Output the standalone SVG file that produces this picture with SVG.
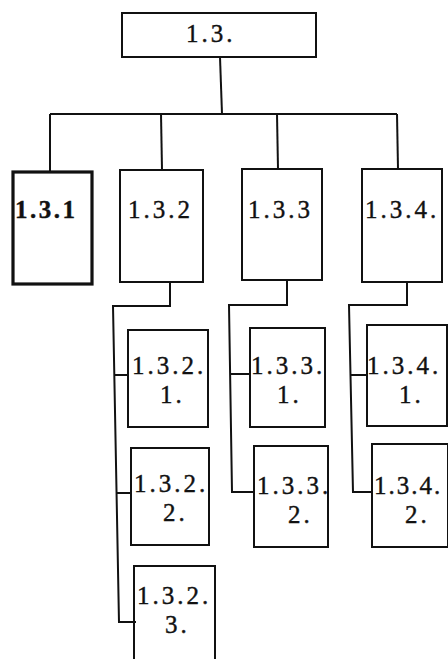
<svg xmlns="http://www.w3.org/2000/svg" width="448" height="659" viewBox="0 0 448 659">
<style>
.box{fill:#fff;stroke:#111;stroke-width:2}
.thick{stroke-width:3.2}
.ln{fill:none;stroke:#111;stroke-width:2}
text{font-family:"Liberation Serif","Times New Roman",serif;font-size:25px;fill:#111;stroke:#111;stroke-width:0.4;letter-spacing:3px}
.b{font-weight:bold;letter-spacing:2.5px}
</style>
<rect width="448" height="659" fill="#fff"/>
<g id="connectors">
<path class="ln" d="M220 57 L222 114"/>
<path class="ln" d="M50 114 L397 114"/>
<path class="ln" d="M50 114 L50 172"/>
<path class="ln" d="M161 114 L162 170"/>
<path class="ln" d="M277 114 L278 169"/>
<path class="ln" d="M397 114 L398 169"/>
<path class="ln" d="M170 282 L170 306 L113 306 L119 622 L136 622"/>
<path class="ln" d="M115 375 L128 375"/>
<path class="ln" d="M117 493 L131 493"/>
<path class="ln" d="M287 280 L287 305 L229 305 L232 492 L254 492"/>
<path class="ln" d="M230 374 L250 374"/>
<path class="ln" d="M407 282 L407 305 L349 305 L353 492 L372 492"/>
<path class="ln" d="M350 375 L367 375"/>
</g>
<g id="n13"><rect class="box" x="122" y="13" width="194" height="44"/><text x="186" y="42">1.3.</text></g>
<g id="n131"><rect class="box thick" x="13" y="172" width="79" height="112"/><text class="b" x="15" y="218">1.3.1</text></g>
<g id="n132"><rect class="box" x="120" y="170" width="83" height="112"/><text x="128" y="218">1.3.2</text></g>
<g id="n133"><rect class="box" x="242" y="169" width="80" height="111"/><text x="248" y="218">1.3.3</text></g>
<g id="n134"><rect class="box" x="362" y="169" width="80" height="113"/><text x="365" y="218">1.3.4.</text></g>
<g id="n1321"><rect class="box" x="128" y="330" width="80" height="97"/><text x="132" y="374">1.3.2.</text><text x="160" y="403">1.</text></g>
<g id="n1322"><rect class="box" x="131" y="448" width="78" height="97"/><text x="134" y="492">1.3.2.</text><text x="163" y="521">2.</text></g>
<g id="n1323"><path class="ln" d="M134 662 L134 566 L215 566 L215 662"/><text x="137" y="604">1.3.2.</text><text x="165" y="633">3.</text></g>
<g id="n1331"><rect class="box" x="250" y="328" width="75" height="99"/><text x="251" y="374">1.3.3.</text><text x="277" y="403">1.</text></g>
<g id="n1332"><rect class="box" x="254" y="446" width="74" height="101"/><text x="257" y="494">1.3.3.</text><text x="288" y="523">2.</text></g>
<g id="n1341"><rect class="box" x="367" y="325" width="80" height="101"/><text x="367" y="374">1.3.4.</text><text x="399" y="403">1.</text></g>
<g id="n1342"><rect class="box" x="372" y="444" width="76" height="103"/><text x="374" y="494" style="letter-spacing:2px">1.3.4.</text><text x="405" y="523">2.</text></g>
</svg>
